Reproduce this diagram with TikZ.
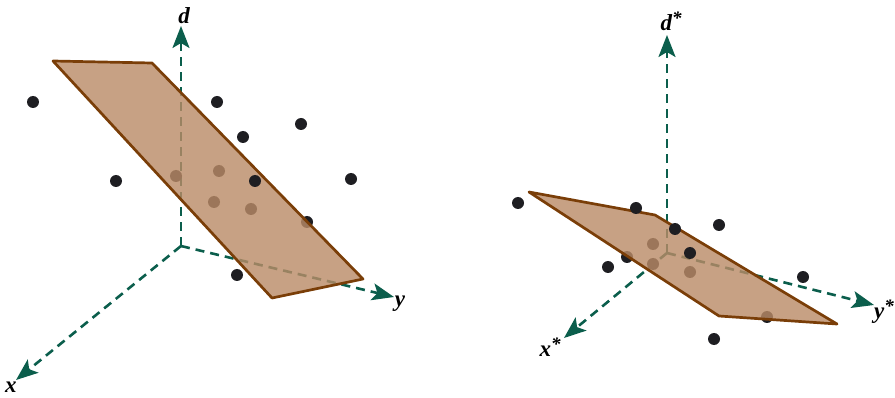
\documentclass[tikz,border=0pt]{standalone}
\usepackage{fontspec}
\setmainfont{Liberation Serif}
\usetikzlibrary{arrows.meta}
\definecolor{axc}{HTML}{0B5E4C}
\definecolor{planef}{RGB}{186,139,103}
\definecolor{planeb}{HTML}{7A3E08}
\definecolor{ptc}{HTML}{1E1E22}
\newcommand{\strsup}{\raisebox{6pt}{\fontsize{19}{19}\selectfont *}}
\tikzset{
  axis/.style={draw=axc, line width=2.6pt, dash pattern=on 9pt off 6pt, -{Stealth[length=22pt,width=17pt,inset=5pt]}},
  plane/.style={fill=planef, fill opacity=0.81, draw=planeb, line width=2.7pt, line join=round},
  pt/.style={circle, fill=ptc, inner sep=0pt, minimum size=12pt},
  lab/.style={font=\fontsize{23}{25}\selectfont\bfseries\itshape, inner sep=0pt}
}
\begin{document}
\begin{tikzpicture}[x=1pt,y=-1pt]
\useasboundingbox (0,0) rectangle (895,398);
% ---------- left panel ----------
\coordinate (O1) at (181,246);
\coordinate (d1) at (181,26);
\coordinate (x1) at (16,380);
\coordinate (y1) at (394,297);
\draw[axis] (O1) -- (d1);
\draw[axis] (O1) -- (x1);
\draw[axis] (O1) -- (y1);
\node[lab] (ld1) at (184,16) {d};
\node[lab] (lx1) at (11,387) {x};
\node[lab] (ly1) at (400,304) {y};
% points behind plane
\node[pt] (b1) at (176,176) {};
\node[pt] (b2) at (219,171) {};
\node[pt] (b3) at (214,202) {};
\node[pt] (b4) at (251,209) {};
\node[pt] (b5) at (307,222) {};
% plane
\path[plane] (53,61) -- (152,63) -- (363,279) -- (272,298) -- cycle;
% points in front
\node[pt] (p1) at (33,102) {};
\node[pt] (p2) at (217,102) {};
\node[pt] (p3) at (243,137) {};
\node[pt] (p4) at (301,124) {};
\node[pt] (p5) at (116,181) {};
\node[pt] (p6) at (255,181) {};
\node[pt] (p7) at (351,179) {};
\node[pt] (p8) at (237,275) {};
% ---------- right panel ----------
\coordinate (O2) at (667,253);
\coordinate (d2) at (667,35);
\coordinate (x2) at (564,338);
\coordinate (y2) at (874,305);
\draw[axis] (O2) -- (d2);
\draw[axis] (O2) -- (x2);
\draw[axis] (O2) -- (y2);
\node[lab] (ld2) at (671,21) {d\strsup};
\node[lab] (lx2) at (550,347) {x\strsup};
\node[lab] (ly2) at (884,312) {y\strsup};
% points behind plane
\node[pt] (c1) at (653,244) {};
\node[pt] (c2) at (653,264) {};
\node[pt] (c3) at (690,272) {};
\node[pt] (c4) at (767,317) {};
\node[pt] (c5) at (627,257) {};
% plane
\path[plane] (529,192) -- (655,215) -- (837,324) -- (719,316) -- cycle;
% points in front
\node[pt] (q1) at (518,203) {};
\node[pt] (q2) at (636,208) {};
\node[pt] (q3) at (675,229) {};
\node[pt] (q4) at (719,225) {};
\node[pt] (q5) at (608,267) {};
\node[pt] (q6) at (690,253) {};
\node[pt] (q7) at (803,277) {};
\node[pt] (q8) at (714,339) {};
\end{tikzpicture}
\end{document}
